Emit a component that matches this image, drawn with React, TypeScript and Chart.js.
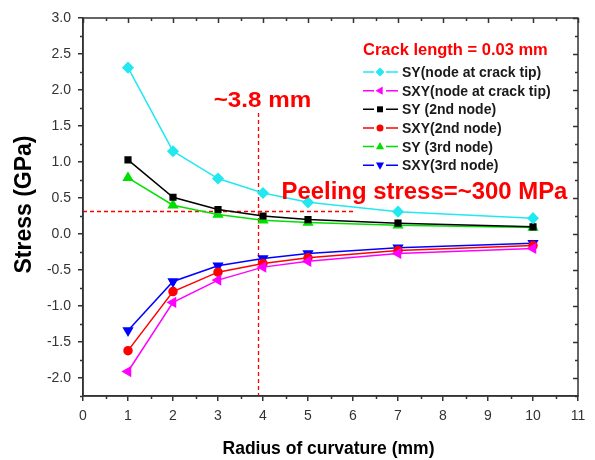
import React, { useEffect, useRef } from "react";
import { Chart, registerables } from "chart.js";

Chart.register(...registerables);

const radius = [1, 2, 3, 4, 5, 7, 10];
const syTip = [2.31, 1.15, 0.77, 0.57, 0.44, 0.31, 0.22];
const sxyTip = [-1.91, -0.95, -0.64, -0.46, -0.38, -0.27, -0.2];
const sy2 = [1.03, 0.51, 0.34, 0.25, 0.2, 0.15, 0.1];
const sxy2 = [-1.62, -0.8, -0.53, -0.41, -0.33, -0.23, -0.16];
const sy3 = [0.78, 0.4, 0.27, 0.19, 0.16, 0.12, 0.09];
const sxy3 = [-1.34, -0.66, -0.44, -0.34, -0.27, -0.19, -0.13];

const seriesNames = [
  "SY(node at crack tip)",
  "SXY(node at crack tip)",
  "SY (2nd node)",
  "SXY(2nd node)",
  "SY (3rd node)",
  "SXY(3rd node)",
];

const peelingStress = 0.32;
const criticalRadius = 3.88;
const vLineTop = 1.68;
const hLineEnd = 6.04;

const AXIS = "#333333";
const FONT = "'Liberation Sans', Arial, sans-serif";

const styles = [
  { color: "#22e8f0", point: "rectRot", rot: 0, r: 5 },
  { color: "#ff00ff", point: "triangle", rot: -90, r: 5 },
  { color: "#000000", point: "rect", rot: 0, r: 4 },
  { color: "#ff0000", point: "circle", rot: 0, r: 4 },
  { color: "#00e000", point: "triangle", rot: 0, r: 5 },
  { color: "#0000ff", point: "triangle", rot: 180, r: 5 },
];

const seriesValues = [syTip, sxyTip, sy2, sxy2, sy3, sxy3];

function marker(ctx: CanvasRenderingContext2D, kind: string, rot: number, r: number, x: number, y: number, color: string) {
  ctx.save();
  ctx.translate(x, y);
  ctx.rotate((rot * Math.PI) / 180);
  ctx.fillStyle = color;
  ctx.beginPath();
  if (kind === "circle") {
    ctx.arc(0, 0, r, 0, Math.PI * 2);
  } else if (kind === "rect") {
    const s = r * 0.85;
    ctx.rect(-s, -s, 2 * s, 2 * s);
  } else if (kind === "rectRot") {
    ctx.moveTo(0, -r);
    ctx.lineTo(r, 0);
    ctx.lineTo(0, r);
    ctx.lineTo(-r, 0);
    ctx.closePath();
  } else {
    ctx.moveTo(0, -r);
    ctx.lineTo(r * 0.9, r * 0.6);
    ctx.lineTo(-r * 0.9, r * 0.6);
    ctx.closePath();
  }
  ctx.fill();
  ctx.restore();
}

function text(ctx: CanvasRenderingContext2D, s: string, x: number, y: number, font: string, color: string, align: CanvasTextAlign, sx = 1, baseline: CanvasTextBaseline = "alphabetic") {
  ctx.save();
  ctx.translate(x, y);
  ctx.scale(sx, 1);
  ctx.font = font;
  ctx.fillStyle = color;
  ctx.textAlign = align;
  ctx.textBaseline = baseline;
  ctx.fillText(s, 0, 0);
  ctx.restore();
}

const decorPlugin = {
  id: "decor",
  beforeDatasetsDraw(chart: any) {
    const { ctx, scales } = chart;
    const x = scales.x;
    const y = scales.y;
    ctx.save();
    ctx.strokeStyle = "#ff0000";
    ctx.lineWidth = 1.3;
    ctx.setLineDash([4, 3]);
    const yp = Math.round(y.getPixelForValue(peelingStress)) + 0.5;
    ctx.beginPath();
    ctx.moveTo(x.left, yp);
    ctx.lineTo(x.getPixelForValue(hLineEnd), yp);
    ctx.stroke();
    const xp = Math.round(x.getPixelForValue(criticalRadius)) + 0.5;
    ctx.beginPath();
    ctx.moveTo(xp, y.getPixelForValue(vLineTop));
    ctx.lineTo(xp, y.bottom);
    ctx.stroke();
    ctx.restore();
  },
  afterDatasetsDraw(chart: any) {
    const { ctx, scales } = chart;
    const x = scales.x;
    const y = scales.y;
    const { left, right, top, bottom } = chart.chartArea;
    ctx.save();
    ctx.strokeStyle = AXIS;
    ctx.lineWidth = 1.5;
    ctx.setLineDash([]);
    ctx.strokeRect(left, top, right - left, bottom - top);
    ctx.beginPath();
    for (let v = -2.25; v <= 3.0001; v += 0.25) {
      const p = Math.round(y.getPixelForValue(v)) + 0.5;
      const major = Math.abs(v * 2 - Math.round(v * 2)) < 1e-6;
      const len = major ? 5 : 3;
      if (!major) {
        ctx.moveTo(left, p);
        ctx.lineTo(left - len, p);
      }
      ctx.moveTo(right, p);
      ctx.lineTo(right - len, p);
    }
    for (let v = 0; v <= 11.0001; v += 0.5) {
      const p = Math.round(x.getPixelForValue(v)) + 0.5;
      const major = Math.abs(v - Math.round(v)) < 1e-6;
      const len = major ? 5 : 3;
      if (!major) {
        ctx.moveTo(p, bottom);
        ctx.lineTo(p, bottom + len);
      }
      ctx.moveTo(p, top);
      ctx.lineTo(p, top + len);
    }
    ctx.stroke();

    text(ctx, "Radius of curvature (mm)", 328.5, 454, `bold 17.5px ${FONT}`, "#000", "center");
    ctx.save();
    ctx.translate(31, 204.5);
    ctx.rotate(-Math.PI / 2);
    ctx.font = `bold 23px ${FONT}`;
    ctx.fillStyle = "#000";
    ctx.textAlign = "center";
    ctx.textBaseline = "alphabetic";
    ctx.fillText("Stress (GPa)", 0, 0);
    ctx.restore();

    text(ctx, "~3.8 mm", 262.5, 106.5, `bold 22px ${FONT}`, "#ff0000", "center", 1.1);
    text(ctx, "Peeling stress=~300 MPa", 281.5, 198.5, `bold 23px ${FONT}`, "#ff0000", "left", 1.04);
    text(ctx, "Crack length = 0.03 mm", 363, 55, `bold 16.5px ${FONT}`, "#ff0000", "left");

    const ly0 = 72;
    const dy = 18.65;
    seriesNames.forEach((name, i) => {
      const st = styles[i];
      const ly = ly0 + i * dy;
      ctx.strokeStyle = st.color;
      ctx.lineWidth = 1.5;
      ctx.beginPath();
      ctx.moveTo(363, ly);
      ctx.lineTo(374, ly);
      ctx.moveTo(386, ly);
      ctx.lineTo(398, ly);
      ctx.stroke();
      marker(ctx, st.point, st.rot, st.r - 0.5, 380, ly, st.color);
      text(ctx, name, 402, ly + 5, `bold 14px ${FONT}`, "#1a1a1a", "left");
    });
    ctx.restore();
  },
};

export default function App() {
  const ref = useRef<HTMLCanvasElement>(null);
  useEffect(() => {
    document.body.style.margin = "0";
    const canvas = ref.current!;
    const datasets = seriesValues.map((vals, i) => ({
      label: seriesNames[i],
      data: radius.map((r, k) => ({ x: r, y: vals[k] })),
      borderColor: styles[i].color,
      backgroundColor: styles[i].color,
      pointBackgroundColor: styles[i].color,
      pointBorderColor: styles[i].color,
      pointStyle: styles[i].point as any,
      pointRotation: styles[i].rot,
      pointRadius: styles[i].r,
      borderWidth: 1.5,
      tension: 0,
    }));
    const chart = new Chart(canvas, {
      type: "line",
      data: { datasets },
      options: {
        animation: false,
        responsive: false,
        layout: { padding: { left: 0, right: 17, top: 18, bottom: 0 } },
        plugins: { legend: { display: false }, tooltip: { enabled: false } },
        scales: {
          x: {
            type: "linear",
            min: 0,
            max: 11,
            afterFit: (s: any) => {
              s.height = 64;
            },
            grid: {
              display: true,
              drawOnChartArea: false,
              drawTicks: true,
              tickLength: 5,
              color: AXIS,
              lineWidth: 1.5,
            },
            border: { display: true, color: AXIS, width: 1.5 },
            ticks: {
              stepSize: 1,
              padding: 7,
              color: "#333",
              font: { family: FONT, size: 14 },
              callback: (v: any) => String(v),
            },
          },
          y: {
            type: "linear",
            min: -2.25,
            max: 3,
            afterFit: (s: any) => {
              s.width = 83;
            },
            grid: {
              display: true,
              drawOnChartArea: false,
              drawTicks: true,
              tickLength: 5,
              color: AXIS,
              lineWidth: 1.5,
            },
            border: { display: true, color: AXIS, width: 1.5 },
            ticks: {
              stepSize: 0.5,
              includeBounds: false,
              padding: 7,
              color: "#333",
              font: { family: FONT, size: 14 },
              callback: (v: any) => Number(v).toFixed(1),
            },
          },
        },
      },
      plugins: [decorPlugin],
    });
    return () => chart.destroy();
  }, []);
  return (
    <div style={{ width: 595, height: 460 }}>
      <canvas ref={ref} width={595} height={460} />
    </div>
  );
}
